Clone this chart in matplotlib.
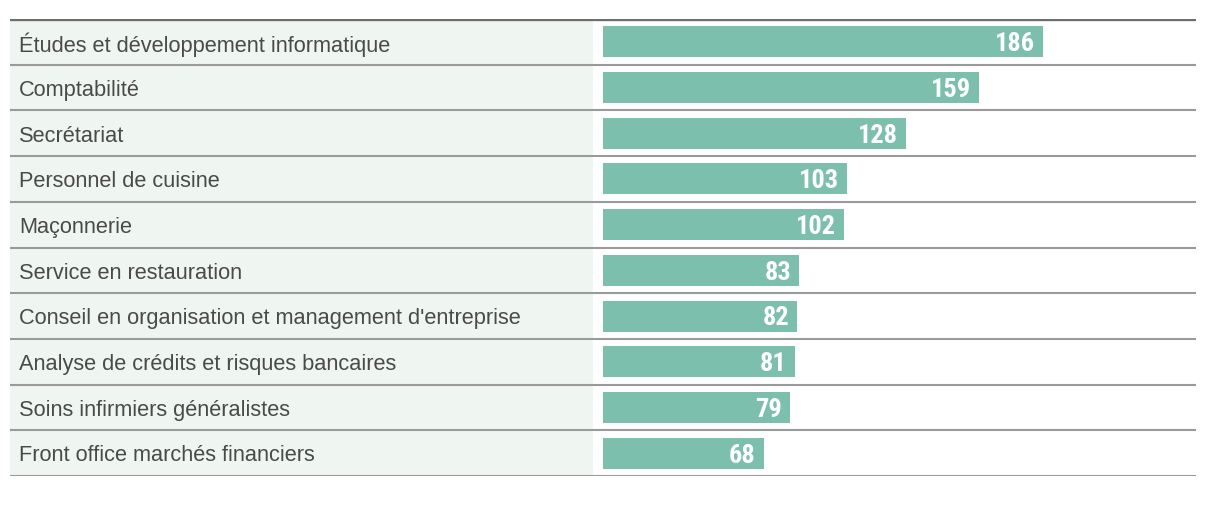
import matplotlib
matplotlib.use("Agg")
import matplotlib.pyplot as plt
from matplotlib import font_manager

# Données
metiers = [
    "Études et développement informatique",
    "Comptabilité",
    "Secrétariat",
    "Personnel de cuisine",
    "Maçonnerie",
    "Service en restauration",
    "Conseil en organisation et management d'entreprise",
    "Analyse de crédits et risques bancaires",
    "Soins infirmiers généralistes",
    "Front office marchés financiers",
]
valeurs = [186, 159, 128, 103, 102, 83, 82, 81, 79, 68]

# police etroite pour les valeurs si disponible
police_val, etirement = "Liberation Sans", "normal"
for f in font_manager.fontManager.ttflist:
    if f.name in ("Liberation Sans Narrow", "Roboto Condensed", "Open Sans Condensed"):
        police_val, etirement = f.name, "normal"
        break
    if f.name == "DejaVu Sans" and f.stretch == "condensed" and f.weight in ("bold", 700):
        police_val, etirement = "DejaVu Sans", "condensed"

W, H = 1224, 506
fig = plt.figure(figsize=(W / 100, H / 100), dpi=100)
ax = fig.add_axes([10 / W, (H - 477) / H, 1186 / W, (477 - 20) / H])

echelle = 2.366  # px par unite
x0 = 603 - 10
gauche = -x0 / echelle
droite = (1186 - x0) / echelle
n = len(metiers)

# fond de la colonne des libelles
ax.axvspan(gauche, (593 - 603) / echelle, color="#eff5f1", lw=0, zorder=0)

ax.barh(range(n), valeurs, height=0.68, color="#7dbfad", zorder=2)

for i, (m, v) in enumerate(zip(metiers, valeurs)):
    ax.text((19 - 603) / echelle, i + 0.04, m, ha="left", va="center",
            fontsize=15.7, color="#4a4a4a", family=["Liberation Sans", "DejaVu Sans"])
    ax.text(v - 3.4, i + 0.03, str(v), ha="right", va="center",
            fontsize=19, color="white", fontweight="bold", fontstretch=etirement,
            family=[police_val, "DejaVu Sans"], zorder=3)

# lignes de separation
for i in range(n):
    ax.axhline(i + 0.5, color="#9a9a9a", lw=1.5, zorder=4)
ax.axhline(-0.5, color="#6e6e6e", lw=2.4, zorder=4)

ax.set_xlim(gauche, droite)
ax.set_ylim(n - 0.5, -0.5)
ax.axis("off")

fig.savefig("out.png", dpi=100)
